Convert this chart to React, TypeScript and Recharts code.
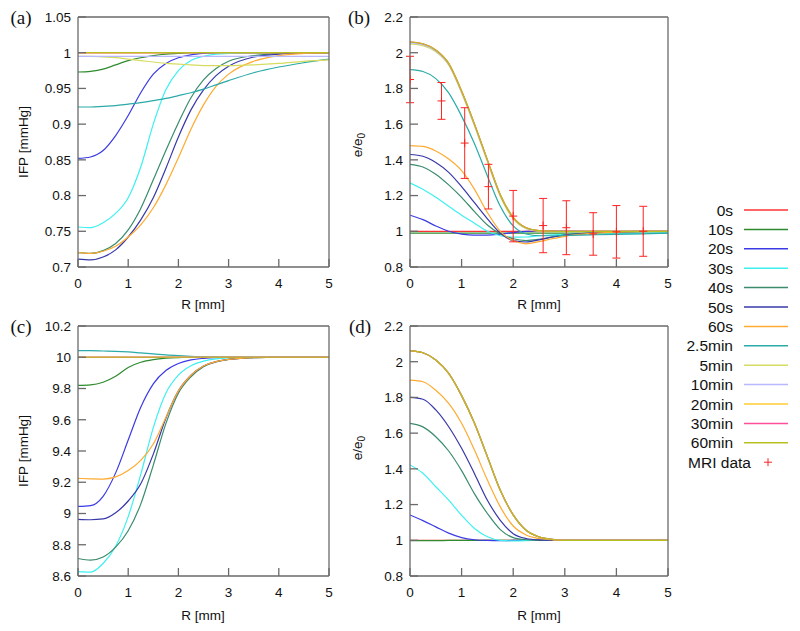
import { ComposedChart, Line, Scatter, ErrorBar, XAxis, YAxis } from "recharts";

// radial position grid [mm]
const R = [0, 0.25, 0.5, 0.75, 1, 1.25, 1.5, 1.75, 2, 2.25, 2.5, 2.75, 3, 3.5, 4, 4.5, 5];

const times = ["0s", "10s", "20s", "30s", "40s", "50s", "60s", "2.5min", "5min", "10min", "20min", "30min", "60min"];
const colors = [
  "#ff3333", "#2e8b2e", "#3a3ae6", "#3ef0f0", "#3a8c6c", "#3838a8", "#ffaa30",
  "#2aaaa8", "#d6dc60", "#b8b8ff", "#ffcc33", "#ff4f9a", "#b8c020",
];

// (a) normalised IFP, one row per time
const ifpA = [
  [1, 1, 1, 1, 1, 1, 1, 1, 1, 1, 1, 1, 1, 1, 1, 1, 1],
  [0.973, 0.974, 0.977, 0.983, 0.989, 0.993, 0.996, 0.998, 0.999, 1, 1, 1, 1, 1, 1, 1, 1],
  [0.852, 0.854, 0.863, 0.884, 0.912, 0.944, 0.97, 0.985, 0.993, 0.997, 0.999, 1, 1, 1, 1, 1, 1],
  [0.756, 0.755, 0.762, 0.775, 0.797, 0.84, 0.9, 0.948, 0.975, 0.989, 0.995, 0.998, 0.999, 1, 1, 1, 1],
  [0.72, 0.719, 0.723, 0.733, 0.752, 0.782, 0.822, 0.863, 0.902, 0.937, 0.962, 0.978, 0.988, 0.996, 0.999, 1, 1],
  [0.711, 0.71, 0.714, 0.724, 0.742, 0.766, 0.797, 0.838, 0.882, 0.92, 0.948, 0.968, 0.981, 0.994, 0.998, 1, 1],
  [0.72, 0.719, 0.722, 0.729, 0.742, 0.759, 0.783, 0.815, 0.853, 0.893, 0.927, 0.953, 0.97, 0.988, 0.996, 0.999, 1],
  [0.924, 0.924, 0.925, 0.926, 0.928, 0.93, 0.933, 0.936, 0.94, 0.944, 0.949, 0.955, 0.961, 0.972, 0.98, 0.986, 0.991],
  [0.995, 0.995, 0.994, 0.993, 0.991, 0.989, 0.987, 0.985, 0.984, 0.983, 0.982, 0.982, 0.982, 0.983, 0.985, 0.988, 0.99],
  [0.995, 0.995, 0.995, 0.995, 0.995, 0.995, 0.995, 0.995, 0.995, 0.995, 0.995, 0.995, 0.995, 0.995, 0.995, 0.995, 0.995],
  [1, 1, 1, 1, 1, 1, 1, 1, 1, 1, 1, 1, 1, 1, 1, 1, 1],
  [1, 1, 1, 1, 1, 1, 1, 1, 1, 1, 1, 1, 1, 1, 1, 1, 1],
  [1, 1, 1, 1, 1, 1, 1, 1, 1, 1, 1, 1, 1, 1, 1, 1, 1],
];

// (b) e/e0
const strainB = [
  [1, 1, 1, 1, 1, 1, 1, 1, 1, 1, 1, 1, 1, 1, 1, 1, 1],
  [0.99, 0.99, 0.99, 0.99, 0.99, 0.99, 0.99, 0.99, 0.99, 0.99, 0.99, 0.99, 0.99, 0.99, 0.99, 0.99, 0.99],
  [1.09, 1.065, 1.03, 1.0, 0.984, 0.978, 0.978, 0.984, 0.993, 0.999, 1.002, 1.002, 1.001, 1, 1, 1, 1],
  [1.27, 1.235, 1.19, 1.14, 1.09, 1.045, 1.0, 0.975, 0.967, 0.968, 0.975, 0.98, 0.983, 0.985, 0.986, 0.988, 0.99],
  [1.375, 1.36, 1.32, 1.26, 1.19, 1.11, 1.035, 0.985, 0.958, 0.948, 0.955, 0.968, 0.978, 0.99, 0.996, 0.999, 1],
  [1.43, 1.42, 1.385, 1.33, 1.25, 1.16, 1.07, 0.99, 0.948, 0.94, 0.952, 0.967, 0.978, 0.99, 0.996, 0.999, 1],
  [1.48, 1.475, 1.45, 1.405, 1.34, 1.235, 1.105, 1.0, 0.948, 0.93, 0.942, 0.958, 0.972, 0.988, 0.995, 0.999, 1],
  [1.905, 1.895, 1.855, 1.775, 1.645, 1.49, 1.31, 1.14, 1.03, 0.985, 0.975, 0.975, 0.977, 0.98, 0.983, 0.986, 0.99],
  [2.05, 2.04, 2.005, 1.93, 1.775, 1.59, 1.39, 1.195, 1.07, 1.015, 1.0, 0.998, 0.998, 0.999, 1, 1, 1],
  [2.055, 2.045, 2.01, 1.935, 1.78, 1.595, 1.395, 1.2, 1.075, 1.018, 1.003, 1, 1, 1, 1, 1, 1],
  [2.06, 2.05, 2.015, 1.94, 1.785, 1.6, 1.4, 1.205, 1.078, 1.02, 1.004, 1.001, 1, 1, 1, 1, 1],
  [2.06, 2.05, 2.015, 1.94, 1.785, 1.6, 1.4, 1.205, 1.078, 1.02, 1.004, 1.001, 1, 1, 1, 1, 1],
  [2.06, 2.05, 2.015, 1.94, 1.785, 1.6, 1.4, 1.205, 1.078, 1.02, 1.004, 1.001, 1, 1, 1, 1, 1],
];

// (c) IFP [mmHg]
const ifpC = [
  [10, 10, 10, 10, 10, 10, 10, 10, 10, 10, 10, 10, 10, 10, 10, 10, 10],
  [9.82, 9.823, 9.84, 9.878, 9.935, 9.968, 9.985, 9.994, 9.998, 10, 10, 10, 10, 10, 10, 10, 10],
  [9.045, 9.05, 9.11, 9.26, 9.47, 9.68, 9.83, 9.915, 9.96, 9.983, 9.993, 9.998, 10, 10, 10, 10, 10],
  [8.628, 8.625, 8.68, 8.79, 8.98, 9.25, 9.55, 9.77, 9.885, 9.945, 9.975, 9.99, 9.996, 10, 10, 10, 10],
  [8.712, 8.702, 8.722, 8.785, 8.89, 9.06, 9.31, 9.575, 9.77, 9.875, 9.94, 9.97, 9.986, 9.998, 10, 10, 10],
  [8.963, 8.96, 8.965, 9.005, 9.08, 9.19, 9.38, 9.61, 9.785, 9.885, 9.944, 9.972, 9.986, 9.998, 10, 10, 10],
  [9.225, 9.222, 9.22, 9.234, 9.275, 9.34, 9.445, 9.615, 9.785, 9.885, 9.944, 9.972, 9.986, 9.998, 10, 10, 10],
  [10.042, 10.042, 10.04, 10.038, 10.034, 10.028, 10.022, 10.015, 10.01, 10.006, 10.003, 10.002, 10.001, 10, 10, 10, 10],
  [10, 10, 10, 10, 10, 10, 10, 10, 10, 10, 10, 10, 10, 10, 10, 10, 10],
  [10, 10, 10, 10, 10, 10, 10, 10, 10, 10, 10, 10, 10, 10, 10, 10, 10],
  [10, 10, 10, 10, 10, 10, 10, 10, 10, 10, 10, 10, 10, 10, 10, 10, 10],
  [10, 10, 10, 10, 10, 10, 10, 10, 10, 10, 10, 10, 10, 10, 10, 10, 10],
  [10, 10, 10, 10, 10, 10, 10, 10, 10, 10, 10, 10, 10, 10, 10, 10, 10],
];

// (d) e/e0
const strainD = [
  [1, 1, 1, 1, 1, 1, 1, 1, 1, 1, 1, 1, 1, 1, 1, 1, 1],
  [0.998, 0.998, 0.998, 0.999, 0.999, 1, 1, 1, 1, 1, 1, 1, 1, 1, 1, 1, 1],
  [1.142, 1.11, 1.075, 1.04, 1.015, 1.003, 0.999, 0.998, 0.999, 1, 1, 1, 1, 1, 1, 1, 1],
  [1.422, 1.375, 1.3, 1.225, 1.14, 1.066, 1.02, 1.0, 0.997, 0.998, 1, 1, 1, 1, 1, 1, 1],
  [1.655, 1.635, 1.58, 1.5, 1.39, 1.26, 1.15, 1.06, 1.015, 1.003, 1, 1, 1, 1, 1, 1, 1],
  [1.8, 1.79, 1.73, 1.636, 1.515, 1.373, 1.224, 1.112, 1.037, 1.01, 1.002, 1, 1, 1, 1, 1, 1],
  [1.897, 1.888, 1.84, 1.767, 1.655, 1.505, 1.337, 1.187, 1.08, 1.03, 1.01, 1.003, 1, 1, 1, 1, 1],
  [2.062, 2.05, 2.01, 1.935, 1.81, 1.655, 1.468, 1.28, 1.142, 1.056, 1.019, 1.005, 1, 1, 1, 1, 1],
  [2.062, 2.05, 2.01, 1.935, 1.81, 1.655, 1.468, 1.28, 1.142, 1.056, 1.019, 1.005, 1, 1, 1, 1, 1],
  [2.062, 2.05, 2.01, 1.935, 1.81, 1.655, 1.468, 1.28, 1.142, 1.056, 1.019, 1.005, 1, 1, 1, 1, 1],
  [2.062, 2.05, 2.01, 1.935, 1.81, 1.655, 1.468, 1.28, 1.142, 1.056, 1.019, 1.005, 1, 1, 1, 1, 1],
  [2.062, 2.05, 2.01, 1.935, 1.81, 1.655, 1.468, 1.28, 1.142, 1.056, 1.019, 1.005, 1, 1, 1, 1, 1],
  [2.062, 2.05, 2.01, 1.935, 1.81, 1.655, 1.468, 1.28, 1.142, 1.056, 1.019, 1.005, 1, 1, 1, 1, 1],
];

// MRI measurements shown in (b)
const mriR = [0, 0.61, 1.06, 1.52, 2.0, 2.58, 3.03, 3.55, 4.0, 4.52];
const mriMean = [1.85, 1.73, 1.494, 1.25, 1.085, 1.032, 1.02, 0.985, 0.997, 1.0];
const mriErr = [0.13, 0.103, 0.198, 0.125, 0.144, 0.152, 0.151, 0.119, 0.147, 0.14];

const xTicks = [0, 1, 2, 3, 4, 5];
const ifpTicksA = [0.7, 0.75, 0.8, 0.85, 0.9, 0.95, 1, 1.05];
const ifpTicksC = [8.6, 8.8, 9, 9.2, 9.4, 9.6, 9.8, 10, 10.2];
const strainTicks = [0.8, 1, 1.2, 1.4, 1.6, 1.8, 2, 2.2];

const SANS = "'Liberation Sans', Arial, Helvetica, sans-serif";
const SERIF = "'Liberation Serif', 'Times New Roman', serif";
const FRAME = "#6a6a6a";
const MRI_RED = "#f22";

const Plus = (p: any) => (
  <g>
    <line x1={p.cx - 4} x2={p.cx + 4} y1={p.cy} y2={p.cy} stroke={MRI_RED} strokeWidth={1} />
    <line x1={p.cx} x2={p.cx} y1={p.cy - 4} y2={p.cy + 4} stroke={MRI_RED} strokeWidth={1} />
  </g>
);

function Panel({
  series,
  yTicks,
  width,
  height,
  margin,
  yWidth,
  withMri,
}: {
  series: number[][];
  yTicks: number[];
  width: number;
  height: number;
  margin: { top: number; right: number; bottom: number; left: number };
  yWidth: number;
  withMri?: boolean;
}) {
  const rows = R.map((r, i) => {
    const row: Record<string, number> = { R: r };
    series.forEach((s, k) => (row["s" + k] = s[i]));
    return row;
  });
  const mriRows = mriR.map((r, i) => ({ R: r, v: mriMean[i], e: mriErr[i] }));
  const yDomain = [yTicks[0], yTicks[yTicks.length - 1]];
  const tickStyle = { fontSize: 13.5, fill: "#111", fontFamily: SANS };
  const frameProps = { stroke: FRAME, strokeWidth: 1.3 };

  return (
    <ComposedChart width={width} height={height} data={rows} margin={margin}>
      <XAxis
        dataKey="R"
        type="number"
        domain={[0, 5]}
        ticks={xTicks}
        interval={0}
        allowDataOverflow
        height={30}
        tickSize={-8}
        tickMargin={19}
        tick={tickStyle}
        axisLine={frameProps}
        tickLine={frameProps}
      />
      <XAxis
        xAxisId="t"
        orientation="top"
        type="number"
        domain={[0, 5]}
        ticks={xTicks}
        interval={0}
        height={1}
        tickSize={-8}
        tick={false}
        axisLine={frameProps}
        tickLine={frameProps}
      />
      <YAxis
        type="number"
        domain={yDomain}
        ticks={yTicks}
        interval={0}
        allowDataOverflow
        width={yWidth}
        tickSize={-8}
        tickMargin={15}
        tick={tickStyle}
        axisLine={frameProps}
        tickLine={frameProps}
      />
      <YAxis
        yAxisId="r"
        orientation="right"
        type="number"
        domain={yDomain}
        ticks={yTicks}
        interval={0}
        width={1}
        tickSize={-8}
        tick={false}
        axisLine={frameProps}
        tickLine={frameProps}
      />
      {series.map((_, k) => (
        <Line
          key={k}
          dataKey={"s" + k}
          type="monotone"
          stroke={colors[k]}
          strokeWidth={1.2}
          dot={false}
          activeDot={false}
          isAnimationActive={false}
        />
      ))}
      {withMri && (
        <Scatter data={mriRows} dataKey="v" shape={<Plus />} isAnimationActive={false}>
          <ErrorBar dataKey="e" direction="y" width={4} stroke={MRI_RED} strokeWidth={1} />
        </Scatter>
      )}
    </ComposedChart>
  );
}

function YTitle({ x, y, eRatio }: { x: number; y: number; eRatio?: boolean }) {
  return (
    <text
      x={x}
      y={y}
      transform={`rotate(-90 ${x} ${y})`}
      textAnchor="middle"
      dominantBaseline="central"
      fontSize={13.5}
      fontFamily={SANS}
      fill="#111"
    >
      {eRatio ? (
        <>
          e/e
          <tspan dy={4} fontSize={10}>
            0
          </tspan>
        </>
      ) : (
        "IFP [mmHg]"
      )}
    </text>
  );
}

export default function App() {
  const top = { top: 16, right: 10, bottom: 13, left: 0 };
  const topB = { top: 16, right: 11, bottom: 13, left: 0 };
  const bot = { top: 15, right: 10, bottom: 25, left: 0 };
  const botB = { top: 15, right: 11, bottom: 25, left: 0 };
  const legendY = (i: number) => 210 + i * 19.4;

  return (
    <div style={{ position: "absolute", left: 0, top: 0, width: 800, height: 631, background: "#fff" }}>
      <div style={{ position: "absolute", left: 0, top: 0 }}>
        <Panel series={ifpA} yTicks={ifpTicksA} width={340} height={310} margin={top} yWidth={78} />
      </div>
      <div style={{ position: "absolute", left: 340, top: 0 }}>
        <Panel series={strainB} yTicks={strainTicks} width={340} height={310} margin={topB} yWidth={70} withMri />
      </div>
      <div style={{ position: "absolute", left: 0, top: 310 }}>
        <Panel series={ifpC} yTicks={ifpTicksC} width={340} height={321} margin={bot} yWidth={78} />
      </div>
      <div style={{ position: "absolute", left: 340, top: 310 }}>
        <Panel series={strainD} yTicks={strainTicks} width={340} height={321} margin={botB} yWidth={70} />
      </div>

      <svg
        width={800}
        height={631}
        style={{ position: "absolute", left: 0, top: 0, pointerEvents: "none" }}
      >
        <g fontFamily={SERIF} fontSize={19} fill="#111" textAnchor="middle" dominantBaseline="central">
          <text x={21} y={17}>(a)</text>
          <text x={359} y={17}>(b)</text>
          <text x={21} y={326}>(c)</text>
          <text x={360} y={326}>(d)</text>
        </g>
        <YTitle x={23} y={142} />
        <YTitle x={23} y={451} />
        <YTitle x={357} y={145} eRatio />
        <YTitle x={357} y={448} eRatio />
        <g fontFamily={SANS} fontSize={13.5} fill="#111" textAnchor="middle" dominantBaseline="central">
          <text x={203} y={304}>R [mm]</text>
          <text x={539} y={304}>R [mm]</text>
          <text x={203} y={615}>R [mm]</text>
          <text x={539} y={615}>R [mm]</text>
        </g>
        <g fontFamily={SANS} fontSize={15.5} fill="#111">
          {times.map((t, i) => (
            <g key={t}>
              <text x={733} y={legendY(i)} textAnchor="end" dominantBaseline="central">
                {t}
              </text>
              <line x1={744} x2={788} y1={legendY(i)} y2={legendY(i)} stroke={colors[i]} strokeWidth={1.5} />
            </g>
          ))}
          <text x={751} y={legendY(13)} textAnchor="end" dominantBaseline="central">
            MRI data
          </text>
          <line x1={764} x2={772} y1={legendY(13)} y2={legendY(13)} stroke={MRI_RED} />
          <line x1={768} x2={768} y1={legendY(13) - 4} y2={legendY(13) + 4} stroke={MRI_RED} />
        </g>
      </svg>
    </div>
  );
}
